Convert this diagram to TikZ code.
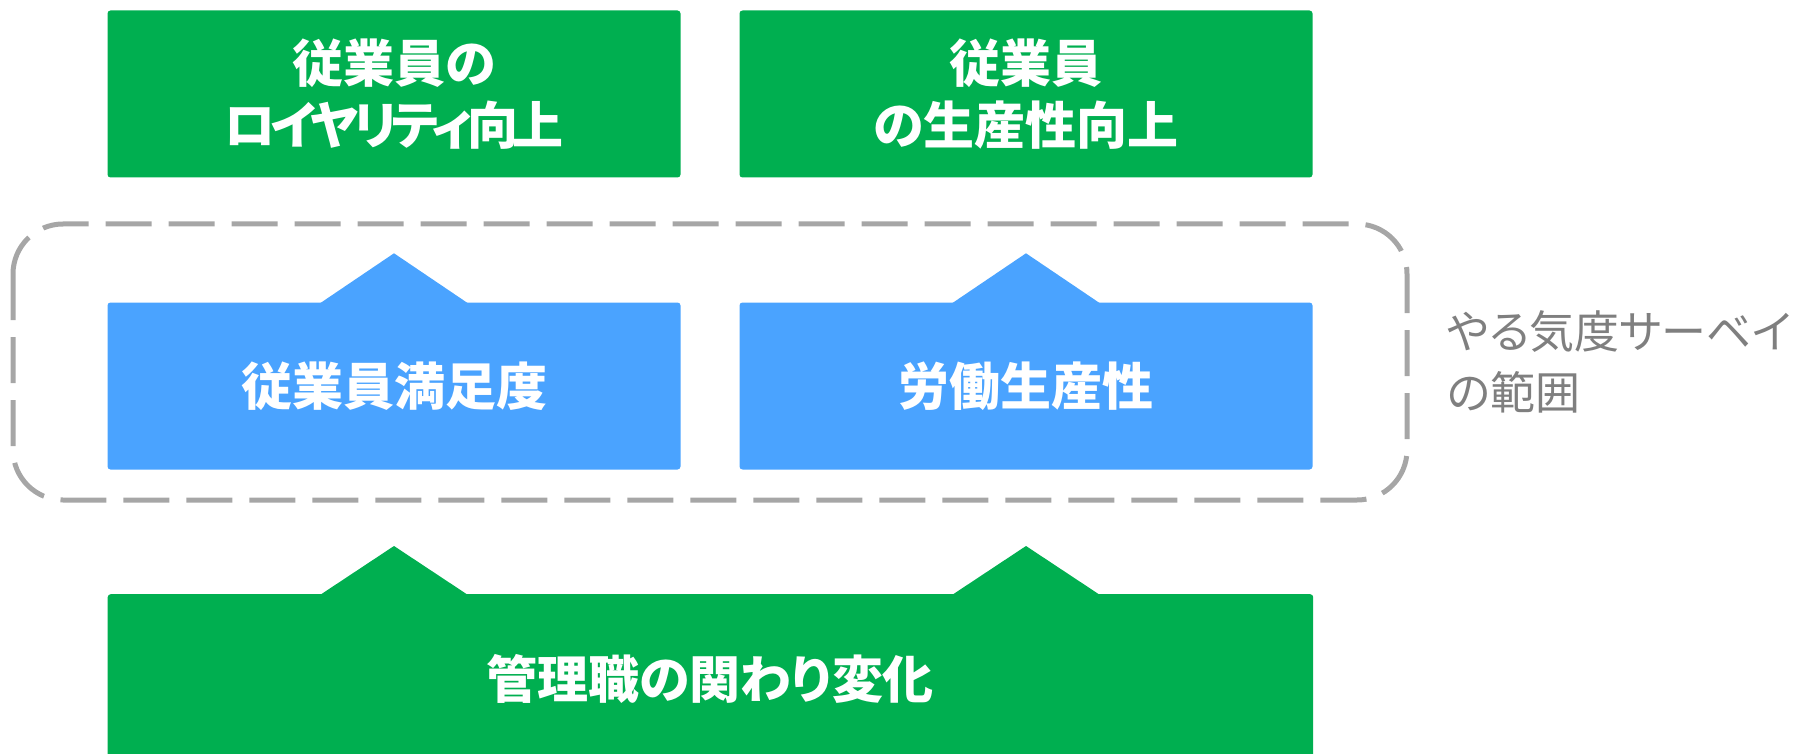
\documentclass[tikz,border=0pt]{standalone}
\usepackage{fontspec}
\newfontfamily\jp{Noto Sans CJK JP}[RawFeature=+palt]
\usetikzlibrary{calc}
\definecolor{bgreen}{HTML}{00AF50}
\definecolor{bblue}{HTML}{4AA3FF}
\definecolor{dgray}{HTML}{A6A6A6}
\definecolor{tgray}{HTML}{7F7F7F}
\begin{document}
\begin{tikzpicture}[x=1pt,y=-1pt,
  boxfont/.style={font=\jp\bfseries\fontsize{51}{62}\selectfont},
  box/.style={rectangle, rounded corners=3pt, inner sep=0pt, text=white,
    boxfont, align=center, minimum width=573pt, minimum height=167pt},
  gbox/.style={box, fill=bgreen},
  bbox/.style={box, fill=bblue},
  scopebox/.style={draw=dgray, line width=5pt, rounded corners=50pt, dash pattern=on 46pt off 17pt},
  note/.style={text=tgray, font=\jp\fontsize{45}{61}\selectfont, align=left, inner sep=0pt, anchor=west}
]
\useasboundingbox (0,0) rectangle (1812,754);
\clip (0,0) rectangle (1812,754);
% top boxes
\node[gbox] (loy) at (394,94) {従業員の\\{\addfontfeatures{LetterSpace=-10}ロイヤリティ向上}};
\node[gbox] (prod) at (1026,94) {従業員\\の生産性向上};
% blue boxes
\node[bbox] (sat) at (394,386) {従業員満足度};
\node[bbox] (lab) at (1026,386) {労働生産性};
% bottom box
\node[gbox, minimum width=1205.5pt, minimum height=220pt, anchor=north west] (mgr) at (107.5,594) {};
\node[text=white, boxfont, inner sep=0pt] (mgrt) at (710,679) {管理職の関わり変化};
% arrows (triangles)
\fill[bblue] ($(sat.north)+(-74,1)$) -- ($(sat.north)+(0,-49)$) -- ($(sat.north)+(74,1)$) -- cycle;
\fill[bblue] ($(lab.north)+(-74,1)$) -- ($(lab.north)+(0,-49)$) -- ($(lab.north)+(74,1)$) -- cycle;
\coordinate (g1) at (mgr.north west -| sat.north);
\coordinate (g2) at (mgr.north west -| lab.north);
\fill[bgreen] ($(g1)+(-74,1)$) -- ($(g1)+(0,-48)$) -- ($(g1)+(74,1)$) -- cycle;
\fill[bgreen] ($(g2)+(-74,1)$) -- ($(g2)+(0,-48)$) -- ($(g2)+(74,1)$) -- cycle;
% dashed scope
\draw[scopebox] (13,224) rectangle (1407,500);
% note
\node[note] (scopenote) at (1447,362) {やる気度サーベイ\\の範囲};
\end{tikzpicture}
\end{document}
